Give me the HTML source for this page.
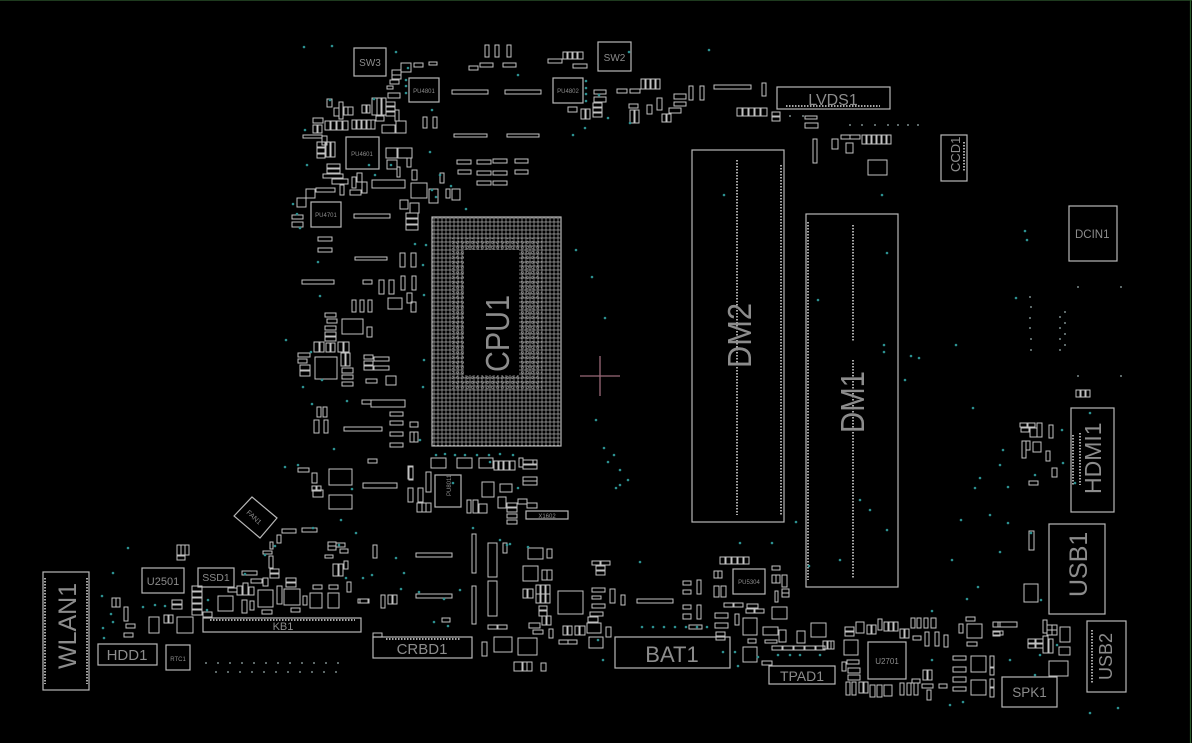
<!DOCTYPE html>
<html><head><meta charset="utf-8"><style>
html,body{margin:0;padding:0;background:#000;}
svg{display:block}
.o{fill:none;stroke:#b8b8b8;stroke-width:1.2}
.s rect{fill:none;stroke:#c2c2c2;stroke-width:1}
.t{fill:#8c8c8c;font-family:"Liberation Sans",sans-serif}
.d circle{fill:#2c9090}
.pin{stroke:#a8a8a8;stroke-width:2;stroke-dasharray:1.5 1.5;fill:none}
</style></head><body>
<svg width="1192" height="743" viewBox="0 0 1192 743" xmlns="http://www.w3.org/2000/svg">
<defs>
<pattern id="bga" width="4" height="4" patternUnits="userSpaceOnUse">
<path d="M2 0.6L3.4 2L2 3.4L0.6 2Z" fill="none" stroke="#a0a0a0" stroke-width="0.7"/>
</pattern>
<pattern id="bga2" width="5" height="5" patternUnits="userSpaceOnUse">
<path d="M2.5 1L4 2.5L2.5 4L1 2.5Z" fill="none" stroke="#8a8a8a" stroke-width="0.6"/>
</pattern>
</defs>
<rect width="1192" height="743" fill="#000"/>
<line x1="0" y1="0.5" x2="1192" y2="0.5" stroke="#1e3a1e" stroke-width="1"/>
<line x1="1190.5" y1="0" x2="1190.5" y2="743" stroke="#2a5a2a" stroke-width="1.2"/>

<!-- CPU1 -->
<rect x="432" y="217" width="129" height="229" fill="url(#bga)" stroke="#b8b8b8" stroke-width="1.2"/>
<rect x="452" y="238" width="90" height="152" fill="url(#bga2)" stroke="none"/>
<rect x="464" y="250" width="55" height="125" fill="#000"/>
<text class="t" transform="translate(509,372) rotate(-90)" font-size="33" textLength="77" lengthAdjust="spacingAndGlyphs">CPU1</text>
<line x1="580" y1="376" x2="620" y2="376" stroke="#9a6a78" stroke-width="1.3"/>
<line x1="600" y1="356" x2="600" y2="396" stroke="#9a6a78" stroke-width="1.3"/>

<!-- DM2 -->
<rect class="o" x="692" y="150" width="92" height="372"/>
<line class="pin" x1="737" y1="160" x2="737" y2="515"/>
<line class="pin" x1="781" y1="165" x2="781" y2="515"/>
<text class="t" transform="translate(751,368) rotate(-90)" font-size="33" textLength="65" lengthAdjust="spacingAndGlyphs">DM2</text>
<!-- DM1 -->
<rect class="o" x="806" y="214" width="92" height="373"/>
<line class="pin" x1="808" y1="222" x2="808" y2="580"/>
<line class="pin" x1="853" y1="225" x2="853" y2="342"/>
<line class="pin" x1="853" y1="360" x2="853" y2="578"/>
<text class="t" transform="translate(864,433) rotate(-90)" font-size="33" textLength="62" lengthAdjust="spacingAndGlyphs">DM1</text>

<!-- Connectors -->
<rect class="o" x="777" y="87" width="113" height="22"/>
<line class="pin" x1="786" y1="106" x2="880" y2="106" stroke-width="1.5"/>
<text class="t" x="833" y="105" font-size="16" text-anchor="middle">LVDS1</text>
<rect class="o" x="941" y="135" width="26" height="46"/>
<line class="pin" x1="964" y1="142" x2="964" y2="172" stroke-width="1.2"/>
<text class="t" transform="translate(960,172) rotate(-90)" font-size="13">CCD1</text>
<rect class="o" x="1069" y="206" width="48" height="55"/>
<text class="t" x="1075" y="238" font-size="11.5">DCIN1</text>
<rect class="o" x="1071" y="408" width="43" height="104"/>
<line class="pin" x1="1073" y1="435" x2="1073" y2="485" stroke-width="1.5"/>
<line class="pin" x1="1080" y1="433" x2="1080" y2="485" stroke-width="1.5"/>
<text class="t" transform="translate(1101,494) rotate(-90)" font-size="23">HDMI1</text>
<rect class="o" x="1049" y="524" width="56" height="90"/>
<text class="t" transform="translate(1087,597) rotate(-90)" font-size="25">USB1</text>
<rect class="o" x="1087" y="621" width="39" height="71"/>
<line class="pin" x1="1092" y1="630" x2="1092" y2="683" stroke-width="1.5"/>
<text class="t" transform="translate(1112,680) rotate(-90)" font-size="18">USB2</text>
<rect class="o" x="1002" y="677" width="55" height="30"/>
<text class="t" x="1029.5" y="697" font-size="13.5" text-anchor="middle">SPK1</text>
<rect class="o" x="615" y="637" width="115" height="31"/>
<text class="t" x="672" y="662" font-size="22" text-anchor="middle">BAT1</text>
<rect class="o" x="769" y="666" width="66" height="18"/>
<text class="t" x="802" y="681" font-size="14" text-anchor="middle">TPAD1</text>
<rect class="o" x="373" y="637" width="99" height="21"/>
<line class="pin" x1="386" y1="639" x2="460" y2="639" stroke-width="1.3"/>
<text class="t" x="422" y="654" font-size="15" text-anchor="middle">CRBD1</text>
<rect class="o" x="203" y="618" width="158" height="14"/>
<line class="pin" x1="210" y1="620" x2="355" y2="620" stroke-width="1.2"/>
<text class="t" x="283" y="630" font-size="11" text-anchor="middle">KB1</text>
<rect class="o" x="43" y="572" width="46" height="118"/>
<line class="pin" x1="45" y1="578" x2="45" y2="684" stroke-width="1.3"/>
<line class="pin" x1="87" y1="578" x2="87" y2="684" stroke-width="1.3"/>
<text class="t" transform="translate(76,669) rotate(-90)" font-size="25">WLAN1</text>
<rect class="o" x="98" y="644" width="59" height="21"/>
<text class="t" x="127" y="660" font-size="15" text-anchor="middle">HDD1</text>
<rect class="o" x="166" y="645" width="24" height="25"/>
<text class="t" x="178" y="661" font-size="6" text-anchor="middle">RTC1</text>
<rect class="o" x="142" y="568" width="42" height="25"/>
<text class="t" x="163" y="585" font-size="11" text-anchor="middle">U2501</text>
<rect class="o" x="198" y="568" width="36" height="19"/>
<text class="t" x="216" y="581" font-size="10.5" text-anchor="middle">SSD1</text>
<polygon class="o" points="234,516 252,497 277,518 260,538"/>
<text class="t" transform="translate(246,513) rotate(43)" font-size="7">FAN1</text>
<rect class="o" x="354" y="48" width="32" height="28"/>
<text class="t" x="370" y="66" font-size="10" text-anchor="middle">SW3</text>
<rect class="o" x="598" y="42" width="33" height="29"/>
<text class="t" x="614.5" y="61" font-size="10" text-anchor="middle">SW2</text>
<rect class="o" x="868" y="642" width="38" height="37"/>
<text class="t" x="887" y="664" font-size="8" text-anchor="middle">U2701</text>
<rect class="o" x="733" y="569" width="32" height="25"/>
<text class="t" x="749" y="584" font-size="6" text-anchor="middle">PU5304</text>
<rect class="o" x="409" y="78" width="30" height="24"/>
<text class="t" x="424" y="93" font-size="6" text-anchor="middle">PU4801</text>
<rect class="o" x="553" y="78" width="30" height="25"/>
<text class="t" x="568" y="93" font-size="6" text-anchor="middle">PU4802</text>
<rect class="o" x="346" y="137" width="33" height="32"/>
<text class="t" x="362" y="156" font-size="6" text-anchor="middle">PU4601</text>
<rect class="o" x="311" y="202" width="30" height="25"/>
<text class="t" x="326" y="217" font-size="6" text-anchor="middle">PU4701</text>
<rect class="o" x="435" y="475" width="26" height="32"/>
<text class="t" transform="translate(451,496) rotate(-90)" font-size="6">PU8011</text>
<rect class="o" x="526" y="511" width="42" height="8"/>
<text class="t" x="547" y="518" font-size="6" text-anchor="middle">X1602</text>

<!-- small parts -->
<g class="s">
<!-- top-left cluster -->
<rect x="485" y="45" width="4" height="12"/><rect x="495" y="45" width="4" height="12"/><rect x="507" y="45" width="4" height="12"/>
<rect x="469" y="66" width="9" height="4"/><rect x="480" y="63" width="13" height="4"/><rect x="503" y="63" width="13" height="4"/>
<rect x="452" y="90" width="36" height="4"/><rect x="505" y="90" width="36" height="4"/>
<rect x="454" y="134" width="33" height="3"/><rect x="507" y="134" width="32" height="3"/>
<rect x="423" y="117" width="4" height="11"/><rect x="433" y="117" width="4" height="11"/>
<rect x="457" y="160" width="14" height="4"/><rect x="477" y="160" width="14" height="4"/><rect x="493" y="159" width="14" height="4"/><rect x="515" y="159" width="13" height="4"/>
<rect x="458" y="170" width="13" height="4"/><rect x="477" y="171" width="14" height="4"/><rect x="493" y="171" width="14" height="4"/><rect x="515" y="170" width="13" height="4"/>
<rect x="477" y="181" width="14" height="4"/><rect x="493" y="181" width="14" height="4"/>
<rect x="354" y="214" width="36" height="4"/>
<rect x="414" y="63" width="9" height="4"/><rect x="429" y="62" width="8" height="3"/><rect x="401" y="63" width="10" height="9"/>
<rect x="392" y="70" width="9" height="5"/><rect x="392" y="75" width="9" height="4"/><rect x="390" y="80" width="9" height="4"/>
<rect x="387" y="86" width="6" height="3"/><rect x="388" y="93" width="12" height="5"/>
<rect x="327" y="99" width="5" height="8"/><rect x="339" y="102" width="4" height="17"/><rect x="344" y="107" width="4" height="8"/><rect x="348" y="107" width="5" height="8"/>
<rect x="334" y="108" width="5" height="8"/><rect x="362" y="105" width="5" height="8"/><rect x="366" y="105" width="4" height="8"/>
<rect x="372" y="98" width="5" height="17"/><rect x="377" y="98" width="4" height="17"/><rect x="382" y="98" width="4" height="17"/>
<rect x="386" y="102" width="9" height="4"/><rect x="386" y="107" width="9" height="4"/><rect x="386" y="112" width="9" height="4"/><rect x="395" y="110" width="4" height="11"/>
<rect x="376" y="116" width="8" height="5"/>
<rect x="325" y="121" width="5" height="9"/><rect x="331" y="121" width="5" height="9"/><rect x="337" y="121" width="5" height="9"/><rect x="343" y="121" width="5" height="9"/>
<rect x="352" y="120" width="4" height="9"/><rect x="357" y="120" width="4" height="9"/><rect x="362" y="120" width="4" height="9"/><rect x="367" y="120" width="4" height="9"/><rect x="371" y="120" width="4" height="9"/>
<rect x="382" y="125" width="13" height="8"/><rect x="396" y="121" width="10" height="12"/>
<rect x="313" y="118" width="10" height="5"/><rect x="313" y="125" width="4" height="8"/><rect x="318" y="125" width="4" height="8"/>
<rect x="303" y="135" width="19" height="3"/><rect x="322" y="136" width="5" height="9"/>
<rect x="317" y="142" width="8" height="5"/><rect x="317" y="148" width="8" height="5"/><rect x="326" y="142" width="4" height="15"/><rect x="331" y="142" width="4" height="15"/><rect x="317" y="154" width="8" height="4"/>
<rect x="327" y="164" width="13" height="4"/><rect x="327" y="169" width="13" height="4"/><rect x="323" y="174" width="20" height="4"/>
<rect x="332" y="179" width="16" height="5"/>
<rect x="352" y="177" width="4" height="11"/><rect x="357" y="173" width="5" height="9"/><rect x="362" y="182" width="5" height="11"/>
<rect x="340" y="185" width="4" height="10"/><rect x="350" y="190" width="11" height="5"/>
<rect x="386" y="148" width="11" height="10"/><rect x="387" y="160" width="10" height="9"/><rect x="397" y="167" width="3" height="10"/><rect x="398" y="148" width="14" height="10"/><rect x="407" y="158" width="4" height="9"/>
<rect x="412" y="170" width="5" height="10"/><rect x="440" y="173" width="4" height="10"/>
<rect x="372" y="180" width="33" height="8"/><rect x="411" y="183" width="16" height="15"/>
<rect x="429" y="189" width="9" height="14"/><rect x="446" y="189" width="4" height="9"/><rect x="452" y="189" width="8" height="11"/>
<rect x="316" y="188" width="19" height="4"/><rect x="306" y="189" width="9" height="9"/><rect x="297" y="198" width="9" height="9"/>
<rect x="292" y="215" width="11" height="4"/><rect x="292" y="222" width="11" height="5"/>
<rect x="400" y="200" width="8" height="9"/><rect x="410" y="203" width="9" height="10"/><rect x="406" y="213" width="12" height="5"/><rect x="406" y="219" width="12" height="5"/><rect x="406" y="225" width="12" height="5"/>
<!-- left middle -->
<rect x="318" y="237" width="14" height="4"/><rect x="318" y="248" width="14" height="4"/>
<rect x="355" y="257" width="32" height="3"/><rect x="400" y="253" width="5" height="14"/><rect x="411" y="253" width="5" height="14"/>
<rect x="302" y="280" width="32" height="4"/><rect x="363" y="280" width="9" height="4"/>
<rect x="379" y="280" width="5" height="14"/><rect x="389" y="280" width="5" height="14"/><rect x="401" y="276" width="4" height="14"/><rect x="412" y="276" width="4" height="14"/>
<rect x="388" y="298" width="14" height="11"/><rect x="407" y="293" width="5" height="10"/><rect x="411" y="302" width="5" height="10"/>
<rect x="352" y="300" width="4" height="12"/><rect x="360" y="300" width="4" height="12"/><rect x="368" y="300" width="4" height="12"/>
<rect x="325" y="313" width="11" height="4"/><rect x="327" y="319" width="10" height="4"/><rect x="325" y="326" width="11" height="4"/><rect x="325" y="332" width="11" height="4"/><rect x="325" y="337" width="11" height="4"/>
<rect x="342" y="319" width="21" height="15"/><rect x="367" y="327" width="5" height="10"/>
<rect x="314" y="342" width="5" height="10"/><rect x="320" y="342" width="4" height="10"/><rect x="326" y="343" width="4" height="9"/><rect x="331" y="343" width="4" height="9"/>
<rect x="338" y="342" width="5" height="10"/><rect x="344" y="342" width="5" height="10"/>
<rect x="298" y="353" width="12" height="4"/><rect x="298" y="359" width="9" height="4"/><rect x="300" y="365" width="10" height="5"/><rect x="300" y="371" width="10" height="5"/>
<rect x="315" y="357" width="22" height="22"/>
<rect x="341" y="353" width="4" height="13"/><rect x="346" y="353" width="4" height="13"/><rect x="342" y="368" width="11" height="5"/>
<rect x="342" y="375" width="11" height="4"/><rect x="342" y="382" width="11" height="4"/>
<rect x="364" y="355" width="9" height="4"/><rect x="364" y="361" width="9" height="4"/><rect x="364" y="366" width="9" height="4"/>
<rect x="374" y="357" width="15" height="4"/><rect x="374" y="366" width="15" height="4"/>
<rect x="366" y="379" width="11" height="4"/><rect x="386" y="376" width="10" height="9"/>
<rect x="362" y="400" width="9" height="4"/><rect x="371" y="400" width="34" height="7"/>
<rect x="390" y="412" width="13" height="4"/><rect x="390" y="421" width="13" height="4"/><rect x="390" y="432" width="13" height="4"/><rect x="390" y="443" width="13" height="4"/>
<rect x="410" y="422" width="8" height="5"/><rect x="410" y="432" width="4" height="10"/><rect x="414" y="432" width="4" height="10"/>
<rect x="317" y="407" width="4" height="10"/><rect x="323" y="407" width="4" height="10"/>
<rect x="314" y="420" width="5" height="13"/><rect x="324" y="420" width="4" height="13"/>
<rect x="344" y="427" width="38" height="4"/>
<rect x="368" y="459" width="9" height="4"/><rect x="298" y="468" width="11" height="4"/>
<rect x="329" y="469" width="23" height="16"/><rect x="312" y="473" width="5" height="10"/><rect x="312" y="486" width="4" height="5"/><rect x="317" y="486" width="4" height="5"/>
<rect x="409" y="467" width="4" height="13"/><rect x="363" y="483" width="34" height="5"/>
<rect x="329" y="495" width="23" height="14"/><rect x="313" y="490" width="10" height="7"/>
<!-- bottom middle -->
<rect x="390" y="443" width="13" height="4"/>
<rect x="408" y="466" width="5" height="13"/><rect x="408" y="488" width="5" height="14"/><rect x="418" y="488" width="5" height="14"/>
<rect x="417" y="503" width="5" height="9"/><rect x="422" y="503" width="4" height="9"/><rect x="426" y="503" width="5" height="9"/>
<rect x="426" y="472" width="5" height="20"/><rect x="431" y="458" width="15" height="10"/>
<rect x="457" y="458" width="15" height="10"/><rect x="479" y="458" width="14" height="10"/>
<rect x="494" y="461" width="4" height="9"/><rect x="499" y="461" width="4" height="9"/><rect x="504" y="461" width="5" height="9"/><rect x="510" y="461" width="5" height="9"/>
<rect x="519" y="458" width="4" height="9"/><rect x="523" y="460" width="10" height="4"/>
<rect x="467" y="500" width="4" height="13"/><rect x="473" y="500" width="5" height="13"/><rect x="479" y="504" width="8" height="9"/>
<rect x="482" y="482" width="12" height="15"/><rect x="500" y="484" width="12" height="8"/>
<rect x="498" y="497" width="8" height="11"/>
<rect x="507" y="503" width="10" height="4"/><rect x="507" y="508" width="10" height="4"/><rect x="507" y="514" width="10" height="4"/><rect x="507" y="520" width="10" height="4"/>
<rect x="523" y="460" width="14" height="4"/><rect x="523" y="465" width="14" height="4"/><rect x="523" y="477" width="14" height="4"/><rect x="523" y="481" width="14" height="4"/>
<rect x="518" y="499" width="9" height="5"/><rect x="527" y="503" width="10" height="5"/>
<rect x="472" y="534" width="4" height="39"/><rect x="472" y="586" width="4" height="38"/>
<rect x="488" y="543" width="9" height="34"/><rect x="488" y="581" width="9" height="35"/>
<rect x="503" y="543" width="4" height="10"/>
<rect x="416" y="553" width="36" height="4"/><rect x="416" y="594" width="36" height="4"/>
<rect x="373" y="545" width="4" height="13"/><rect x="381" y="595" width="4" height="13"/><rect x="388" y="595" width="4" height="9"/><rect x="393" y="595" width="4" height="9"/>
<rect x="360" y="599" width="8" height="4"/><rect x="442" y="618" width="8" height="4"/><rect x="373" y="633" width="9" height="4"/>
<rect x="482" y="642" width="5" height="14"/><rect x="488" y="625" width="9" height="4"/><rect x="498" y="625" width="9" height="4"/>
<rect x="494" y="637" width="18" height="15"/><rect x="518" y="638" width="19" height="17"/>
<rect x="514" y="662" width="8" height="9"/><rect x="523" y="662" width="4" height="9"/><rect x="527" y="662" width="5" height="9"/>
<rect x="541" y="663" width="5" height="8"/>
<rect x="528" y="548" width="15" height="11"/><rect x="547" y="549" width="5" height="9"/>
<rect x="523" y="566" width="15" height="15"/><rect x="542" y="570" width="5" height="10"/><rect x="547" y="570" width="5" height="10"/>
<rect x="523" y="589" width="4" height="9"/><rect x="528" y="589" width="5" height="9"/>
<rect x="536" y="585" width="4" height="9"/><rect x="541" y="585" width="4" height="9"/><rect x="546" y="585" width="4" height="9"/>
<rect x="536" y="594" width="4" height="9"/><rect x="541" y="594" width="4" height="9"/><rect x="546" y="594" width="4" height="9"/>
<rect x="539" y="606" width="8" height="4"/><rect x="539" y="611" width="8" height="5"/>
<rect x="542" y="616" width="4" height="9"/><rect x="547" y="616" width="4" height="9"/>
<rect x="529" y="623" width="11" height="5"/><rect x="533" y="630" width="10" height="4"/><rect x="549" y="629" width="4" height="9"/>
<rect x="558" y="591" width="25" height="23"/>
<rect x="592" y="561" width="8" height="4"/><rect x="601" y="561" width="9" height="4"/><rect x="596" y="566" width="9" height="4"/><rect x="596" y="571" width="9" height="4"/>
<rect x="592" y="588" width="13" height="4"/><rect x="592" y="596" width="9" height="3"/><rect x="592" y="604" width="13" height="4"/><rect x="590" y="612" width="13" height="4"/><rect x="588" y="617" width="10" height="5"/>
<rect x="610" y="589" width="5" height="14"/><rect x="621" y="595" width="4" height="10"/>
<rect x="637" y="599" width="36" height="4"/>
<rect x="563" y="626" width="4" height="9"/><rect x="568" y="626" width="4" height="9"/><rect x="575" y="626" width="4" height="9"/><rect x="580" y="626" width="5" height="9"/>
<rect x="559" y="640" width="9" height="4"/><rect x="568" y="640" width="9" height="4"/>
<rect x="587" y="623" width="14" height="10"/><rect x="606" y="627" width="5" height="10"/><rect x="589" y="637" width="14" height="11"/>
<!-- bottom right middle -->
<rect x="720" y="557" width="5" height="7"/><rect x="726" y="557" width="5" height="7"/><rect x="732" y="557" width="5" height="7"/><rect x="738" y="557" width="5" height="7"/><rect x="744" y="557" width="5" height="7"/>
<rect x="714" y="571" width="4" height="7"/><rect x="718" y="571" width="4" height="7"/>
<rect x="714" y="586" width="5" height="11"/><rect x="721" y="586" width="5" height="11"/>
<rect x="772" y="566" width="8" height="4"/><rect x="772" y="575" width="4" height="8"/><rect x="776" y="575" width="4" height="8"/><rect x="782" y="575" width="5" height="12"/>
<rect x="775" y="591" width="3" height="11"/><rect x="782" y="589" width="7" height="4"/><rect x="782" y="593" width="7" height="4"/>
<rect x="683" y="581" width="8" height="4"/><rect x="683" y="590" width="8" height="4"/><rect x="697" y="580" width="4" height="14"/>
<rect x="683" y="605" width="8" height="4"/><rect x="683" y="614" width="8" height="5"/><rect x="697" y="605" width="4" height="14"/>
<rect x="715" y="613" width="13" height="5"/><rect x="715" y="623" width="13" height="5"/>
<rect x="724" y="603" width="9" height="4"/><rect x="734" y="603" width="9" height="4"/><rect x="735" y="614" width="4" height="11"/>
<rect x="747" y="604" width="11" height="4"/><rect x="746" y="609" width="8" height="4"/><rect x="755" y="609" width="9" height="4"/>
<rect x="772" y="607" width="15" height="12"/><rect x="743" y="618" width="14" height="17"/>
<rect x="689" y="625" width="13" height="4"/><rect x="716" y="632" width="9" height="4"/><rect x="716" y="636" width="9" height="4"/>
<rect x="743" y="647" width="14" height="15"/><rect x="748" y="639" width="8" height="4"/>
<rect x="763" y="627" width="15" height="8"/><rect x="765" y="640" width="12" height="3"/>
<rect x="779" y="630" width="7" height="12"/><rect x="797" y="631" width="8" height="12"/><rect x="811" y="623" width="15" height="14"/>
<rect x="772" y="646" width="10" height="4"/><rect x="783" y="646" width="10" height="4"/><rect x="794" y="646" width="10" height="4"/><rect x="805" y="646" width="10" height="4"/><rect x="816" y="646" width="9" height="4"/>
<rect x="823" y="641" width="4" height="8"/><rect x="828" y="641" width="3" height="8"/><rect x="831" y="641" width="3" height="8"/>
<rect x="762" y="661" width="10" height="4"/>
<rect x="844" y="640" width="14" height="15"/><rect x="842" y="662" width="4" height="9"/>
<rect x="845" y="627" width="9" height="4"/><rect x="845" y="632" width="9" height="4"/>
<rect x="856" y="622" width="8" height="11"/><rect x="867" y="625" width="4" height="9"/><rect x="872" y="625" width="4" height="9"/>
<rect x="878" y="619" width="4" height="11"/><rect x="884" y="622" width="4" height="9"/><rect x="889" y="622" width="4" height="9"/><rect x="894" y="622" width="4" height="9"/>
<rect x="900" y="629" width="4" height="9"/><rect x="905" y="629" width="4" height="9"/>
<rect x="911" y="618" width="4" height="10"/><rect x="917" y="618" width="4" height="10"/><rect x="924" y="618" width="4" height="10"/><rect x="931" y="618" width="5" height="10"/>
<rect x="913" y="636" width="8" height="4"/><rect x="925" y="632" width="4" height="14"/><rect x="935" y="632" width="4" height="14"/><rect x="944" y="635" width="4" height="12"/>
<rect x="847" y="660" width="12" height="4"/><rect x="848" y="668" width="12" height="5"/><rect x="848" y="675" width="12" height="5"/>
<rect x="846" y="682" width="4" height="13"/><rect x="852" y="682" width="4" height="13"/><rect x="859" y="682" width="4" height="11"/><rect x="864" y="682" width="4" height="11"/>
<rect x="870" y="685" width="5" height="12"/><rect x="877" y="685" width="5" height="12"/><rect x="884" y="685" width="8" height="11"/>
<rect x="900" y="683" width="4" height="12"/><rect x="907" y="683" width="4" height="12"/><rect x="914" y="683" width="4" height="12"/>
<rect x="912" y="679" width="8" height="4"/><rect x="923" y="670" width="4" height="10"/><rect x="928" y="670" width="4" height="10"/>
<rect x="922" y="684" width="11" height="4"/><rect x="927" y="690" width="4" height="10"/><rect x="939" y="684" width="8" height="4"/>
<rect x="966" y="617" width="9" height="4"/><rect x="959" y="624" width="4" height="9"/><rect x="967" y="624" width="15" height="14"/><rect x="967" y="642" width="10" height="4"/>
<rect x="993" y="622" width="7" height="5"/><rect x="993" y="632" width="7" height="4"/>
<rect x="953" y="656" width="13" height="4"/><rect x="953" y="667" width="13" height="5"/><rect x="953" y="677" width="13" height="5"/><rect x="953" y="687" width="13" height="4"/>
<rect x="971" y="656" width="15" height="16"/><rect x="971" y="680" width="15" height="15"/>
<rect x="990" y="656" width="4" height="11"/><rect x="990" y="668" width="4" height="7"/><rect x="990" y="679" width="4" height="8"/><rect x="990" y="688" width="4" height="9"/>
<!-- right cluster -->
<rect x="1020" y="423" width="7" height="4"/><rect x="1028" y="423" width="7" height="4"/><rect x="1021" y="428" width="8" height="4"/><rect x="1030" y="428" width="7" height="9"/><rect x="1037" y="423" width="5" height="14"/>
<rect x="1049" y="425" width="4" height="13"/>
<rect x="1022" y="441" width="4" height="17"/><rect x="1026" y="441" width="4" height="9"/><rect x="1033" y="442" width="8" height="10"/>
<rect x="1046" y="451" width="4" height="10"/><rect x="1052" y="468" width="5" height="9"/><rect x="1029" y="481" width="9" height="4"/>
<rect x="1029" y="531" width="5" height="19"/><rect x="1024" y="584" width="14" height="18"/>
<rect x="998" y="622" width="19" height="5"/><rect x="993" y="631" width="10" height="4"/>
<rect x="1043" y="620" width="4" height="13"/><rect x="1047" y="625" width="5" height="5"/><rect x="1052" y="625" width="5" height="5"/><rect x="1047" y="630" width="5" height="5"/><rect x="1052" y="630" width="5" height="5"/>
<rect x="1043" y="636" width="5" height="17"/><rect x="1049" y="639" width="4" height="14"/>
<rect x="1028" y="639" width="7" height="4"/><rect x="1036" y="639" width="7" height="4"/><rect x="1028" y="644" width="7" height="4"/><rect x="1036" y="644" width="7" height="4"/>
<rect x="1060" y="627" width="10" height="15"/><rect x="1059" y="647" width="11" height="8"/><rect x="1049" y="661" width="19" height="15"/>
<rect x="1076" y="390" width="4" height="7"/><rect x="1081" y="390" width="4" height="7"/><rect x="1086" y="390" width="4" height="7"/>
<!-- top right -->
<rect x="563" y="52" width="4" height="7"/><rect x="568" y="52" width="4" height="7"/><rect x="573" y="52" width="4" height="7"/><rect x="578" y="52" width="5" height="7"/>
<rect x="548" y="59" width="14" height="4"/><rect x="573" y="64" width="14" height="4"/>
<rect x="594" y="90" width="12" height="4"/><rect x="594" y="97" width="12" height="5"/>
<rect x="593" y="103" width="9" height="4"/><rect x="593" y="108" width="9" height="4"/><rect x="593" y="113" width="9" height="4"/>
<rect x="568" y="107" width="9" height="5"/><rect x="581" y="109" width="4" height="10"/><rect x="586" y="109" width="4" height="10"/>
<rect x="617" y="89" width="10" height="4"/><rect x="630" y="89" width="10" height="4"/>
<rect x="641" y="79" width="4" height="10"/><rect x="646" y="79" width="4" height="10"/><rect x="651" y="79" width="4" height="10"/><rect x="656" y="79" width="4" height="10"/>
<rect x="629" y="104" width="9" height="4"/><rect x="630" y="110" width="4" height="13"/><rect x="635" y="110" width="4" height="13"/>
<rect x="647" y="105" width="5" height="9"/><rect x="657" y="98" width="5" height="12"/><rect x="662" y="114" width="4" height="8"/><rect x="667" y="114" width="4" height="8"/>
<rect x="674" y="94" width="12" height="5"/><rect x="674" y="102" width="12" height="4"/><rect x="669" y="108" width="12" height="5"/>
<rect x="689" y="86" width="4" height="14"/><rect x="700" y="86" width="4" height="14"/>
<rect x="714" y="85" width="37" height="4"/><rect x="762" y="83" width="4" height="13"/>
<rect x="737" y="108" width="5" height="8"/><rect x="743" y="108" width="5" height="8"/><rect x="749" y="108" width="5" height="8"/><rect x="755" y="108" width="5" height="8"/><rect x="761" y="108" width="6" height="8"/>
<rect x="772" y="112" width="8" height="4"/><rect x="772" y="117" width="8" height="4"/>
<rect x="805" y="116" width="12" height="3"/><rect x="805" y="123" width="13" height="5"/><rect x="813" y="139" width="4" height="24"/>
<rect x="832" y="139" width="6" height="10"/><rect x="846" y="143" width="7" height="10"/>
<rect x="841" y="135" width="9" height="4"/><rect x="850" y="135" width="10" height="4"/>
<rect x="862" y="135" width="4" height="9"/><rect x="867" y="135" width="4" height="9"/><rect x="872" y="135" width="4" height="9"/><rect x="877" y="135" width="4" height="9"/><rect x="882" y="135" width="4" height="9"/><rect x="887" y="135" width="4" height="9"/>
<rect x="868" y="160" width="19" height="15"/>
<!-- bottom left -->
<rect x="177" y="545" width="4" height="10"/><rect x="181" y="545" width="4" height="10"/><rect x="185" y="545" width="4" height="10"/><rect x="177" y="556" width="8" height="4"/>
<rect x="112" y="598" width="4" height="9"/><rect x="116" y="598" width="4" height="9"/>
<rect x="124" y="607" width="4" height="14"/><rect x="126" y="624" width="9" height="4"/><rect x="124" y="633" width="9" height="4"/>
<rect x="149" y="617" width="10" height="16"/><rect x="164" y="615" width="4" height="8"/><rect x="169" y="615" width="4" height="8"/>
<rect x="172" y="600" width="10" height="4"/><rect x="172" y="605" width="10" height="4"/><rect x="177" y="617" width="16" height="16"/>
<rect x="192" y="586" width="10" height="5"/><rect x="192" y="592" width="10" height="5"/><rect x="192" y="598" width="10" height="5"/><rect x="192" y="604" width="10" height="5"/><rect x="192" y="610" width="10" height="5"/>
<rect x="203" y="612" width="9" height="5"/><rect x="218" y="596" width="15" height="15"/>
<rect x="228" y="588" width="9" height="4"/><rect x="237" y="586" width="5" height="9"/><rect x="243" y="583" width="5" height="12"/><rect x="249" y="587" width="5" height="8"/>
<rect x="242" y="600" width="5" height="13"/><rect x="250" y="601" width="4" height="9"/>
<rect x="242" y="571" width="15" height="4"/><rect x="251" y="579" width="11" height="4"/><rect x="263" y="578" width="5" height="8"/>
<rect x="258" y="590" width="15" height="17"/><rect x="262" y="610" width="10" height="4"/>
<rect x="270" y="569" width="9" height="4"/><rect x="270" y="574" width="9" height="4"/><rect x="277" y="586" width="5" height="18"/>
<rect x="284" y="589" width="16" height="16"/><rect x="286" y="578" width="10" height="4"/><rect x="286" y="583" width="10" height="4"/><rect x="291" y="608" width="9" height="4"/>
<rect x="303" y="596" width="4" height="9"/><rect x="310" y="593" width="12" height="15"/><rect x="328" y="593" width="11" height="15"/>
<rect x="313" y="585" width="9" height="4"/><rect x="329" y="585" width="9" height="4"/><rect x="347" y="582" width="4" height="10"/><rect x="358" y="599" width="11" height="4"/>
<rect x="282" y="529" width="14" height="4"/><rect x="302" y="528" width="15" height="4"/>
<rect x="277" y="535" width="4" height="8"/><rect x="270" y="542" width="3" height="7"/><rect x="263" y="551" width="9" height="3"/><rect x="269" y="556" width="4" height="12"/>
<rect x="328" y="542" width="8" height="4"/><rect x="328" y="546" width="8" height="4"/><rect x="336" y="543" width="9" height="4"/><rect x="340" y="549" width="8" height="4"/><rect x="325" y="555" width="8" height="3"/>
<rect x="333" y="564" width="5" height="12"/><rect x="339" y="564" width="4" height="12"/><rect x="344" y="561" width="4" height="8"/>
</g>

<!-- dotted rows / diamonds -->
<g fill="#7a8a8a">
<circle cx="206" cy="663" r="1"/><circle cx="218" cy="663" r="1"/><circle cx="230" cy="663" r="1"/><circle cx="242" cy="663" r="1"/><circle cx="254" cy="663" r="1"/><circle cx="266" cy="663" r="1"/><circle cx="278" cy="663" r="1"/><circle cx="290" cy="663" r="1"/><circle cx="302" cy="663" r="1"/><circle cx="314" cy="663" r="1"/><circle cx="326" cy="663" r="1"/><circle cx="338" cy="663" r="1"/>
<circle cx="216" cy="672" r="1"/><circle cx="228" cy="672" r="1"/><circle cx="240" cy="672" r="1"/><circle cx="252" cy="672" r="1"/><circle cx="264" cy="672" r="1"/><circle cx="276" cy="672" r="1"/><circle cx="288" cy="672" r="1"/><circle cx="300" cy="672" r="1"/><circle cx="312" cy="672" r="1"/><circle cx="324" cy="672" r="1"/><circle cx="336" cy="672" r="1"/>
<circle cx="1030" cy="297" r="1"/><circle cx="1031" cy="307" r="1"/><circle cx="1030" cy="318" r="1"/><circle cx="1030" cy="328" r="1"/><circle cx="1031" cy="339" r="1"/><circle cx="1031" cy="350" r="1"/>
<circle cx="1060" cy="317" r="1"/><circle cx="1065" cy="312" r="1"/><circle cx="1060" cy="328" r="1"/><circle cx="1065" cy="323" r="1"/><circle cx="1060" cy="339" r="1"/><circle cx="1065" cy="334" r="1"/><circle cx="1060" cy="350" r="1"/><circle cx="1065" cy="345" r="1"/>
<circle cx="1078" cy="287" r="1"/><circle cx="1121" cy="287" r="1"/><circle cx="1078" cy="376" r="1"/><circle cx="1121" cy="376" r="1"/>
<circle cx="790" cy="116" r="1"/><circle cx="803" cy="116" r="1"/><circle cx="850" cy="125" r="1"/><circle cx="862" cy="125" r="1"/><circle cx="875" cy="125" r="1"/><circle cx="888" cy="125" r="1"/><circle cx="898" cy="125" r="1"/><circle cx="908" cy="125" r="1"/><circle cx="918" cy="125" r="1"/>
</g>

<!-- teal vias -->
<g class="d">
<circle cx="304" cy="47" r="1.3"/><circle cx="332" cy="46" r="1.3"/><circle cx="396" cy="52" r="1.3"/><circle cx="408" cy="68" r="1.3"/><circle cx="432" cy="110" r="1.3"/><circle cx="518" cy="75" r="1.3"/><circle cx="629" cy="52" r="1.3"/><circle cx="709" cy="50" r="1.3"/><circle cx="630" cy="123" r="1.3"/><circle cx="599" cy="95" r="1.3"/><circle cx="608" cy="118" r="1.3"/><circle cx="585" cy="128" r="1.3"/><circle cx="573" cy="135" r="1.3"/><circle cx="430" cy="152" r="1.3"/><circle cx="374" cy="99" r="1.3"/><circle cx="330" cy="100" r="1.3"/><circle cx="305" cy="130" r="1.3"/><circle cx="307" cy="165" r="1.3"/><circle cx="369" cy="165" r="1.3"/><circle cx="391" cy="165" r="1.3"/><circle cx="375" cy="175" r="1.3"/><circle cx="436" cy="197" r="1.3"/><circle cx="440" cy="175" r="1.3"/><circle cx="451" cy="186" r="1.3"/><circle cx="466" cy="209" r="1.3"/><circle cx="432" cy="190" r="1.3"/>
<circle cx="406" cy="80" r="1.3"/><circle cx="406" cy="86" r="1.3"/><circle cx="406" cy="93" r="1.3"/><circle cx="586" cy="81" r="1.3"/><circle cx="586" cy="88" r="1.3"/><circle cx="586" cy="94" r="1.3"/><circle cx="586" cy="101" r="1.3"/>
<circle cx="426" cy="245" r="1.3"/><circle cx="423" cy="265" r="1.3"/><circle cx="424" cy="295" r="1.3"/><circle cx="424" cy="360" r="1.3"/><circle cx="423" cy="387" r="1.3"/><circle cx="420" cy="440" r="1.3"/><circle cx="605" cy="318" r="1.3"/><circle cx="592" cy="277" r="1.3"/><circle cx="576" cy="250" r="1.3"/><circle cx="596" cy="420" r="1.3"/><circle cx="614" cy="455" r="1.3"/><circle cx="620" cy="470" r="1.3"/><circle cx="628" cy="480" r="1.3"/><circle cx="604" cy="448" r="1.3"/><circle cx="608" cy="462" r="1.3"/><circle cx="616" cy="488" r="1.3"/>
<circle cx="724" cy="195" r="1.3"/><circle cx="882" cy="195" r="1.3"/><circle cx="887" cy="253" r="1.3"/><circle cx="818" cy="300" r="1.3"/><circle cx="884" cy="345" r="1.3"/><circle cx="884" cy="352" r="1.3"/><circle cx="911" cy="356" r="1.3"/><circle cx="919" cy="358" r="1.3"/><circle cx="905" cy="380" r="1.3"/><circle cx="956" cy="345" r="1.3"/><circle cx="1016" cy="298" r="1.3"/><circle cx="1027" cy="240" r="1.3"/><circle cx="1025" cy="231" r="1.3"/><circle cx="973" cy="408" r="1.3"/><circle cx="1035" cy="475" r="1.3"/><circle cx="975" cy="488" r="1.3"/><circle cx="961" cy="520" r="1.3"/><circle cx="1000" cy="552" r="1.3"/><circle cx="952" cy="560" r="1.3"/><circle cx="967" cy="599" r="1.3"/><circle cx="978" cy="587" r="1.3"/><circle cx="1008" cy="487" r="1.3"/><circle cx="1003" cy="450" r="1.3"/><circle cx="1031" cy="533" r="1.3"/><circle cx="1008" cy="523" r="1.3"/><circle cx="1062" cy="430" r="1.3"/><circle cx="1090" cy="413" r="1.3"/><circle cx="1063" cy="463" r="1.3"/><circle cx="1075" cy="483" r="1.3"/><circle cx="990" cy="515" r="1.3"/><circle cx="980" cy="478" r="1.3"/><circle cx="1000" cy="465" r="1.3"/>
<circle cx="640" cy="562" r="1.3"/><circle cx="740" cy="543" r="1.3"/><circle cx="772" cy="543" r="1.3"/><circle cx="620" cy="485" r="1.3"/><circle cx="598" cy="640" r="1.3"/><circle cx="603" cy="660" r="1.3"/><circle cx="796" cy="522" r="1.3"/><circle cx="809" cy="566" r="1.3"/><circle cx="840" cy="560" r="1.3"/><circle cx="887" cy="530" r="1.3"/><circle cx="860" cy="500" r="1.3"/><circle cx="870" cy="510" r="1.3"/><circle cx="932" cy="611" r="1.3"/><circle cx="932" cy="660" r="1.3"/><circle cx="950" cy="705" r="1.3"/><circle cx="963" cy="702" r="1.3"/><circle cx="1040" cy="655" r="1.3"/><circle cx="1057" cy="645" r="1.3"/><circle cx="1090" cy="713" r="1.3"/><circle cx="1118" cy="708" r="1.3"/><circle cx="1010" cy="660" r="1.3"/><circle cx="1035" cy="675" r="1.3"/><circle cx="1041" cy="600" r="1.3"/>
<circle cx="723" cy="652" r="1.3"/><circle cx="735" cy="652" r="1.3"/><circle cx="758" cy="657" r="1.3"/><circle cx="778" cy="655" r="1.3"/><circle cx="790" cy="655" r="1.3"/><circle cx="800" cy="655" r="1.3"/><circle cx="820" cy="655" r="1.3"/><circle cx="738" cy="666" r="1.3"/>
<circle cx="642" cy="627" r="1.3"/><circle cx="653" cy="627" r="1.3"/><circle cx="664" cy="627" r="1.3"/><circle cx="675" cy="627" r="1.3"/><circle cx="686" cy="627" r="1.3"/><circle cx="697" cy="627" r="1.3"/><circle cx="707" cy="627" r="1.3"/>
<circle cx="128" cy="548" r="1.3"/><circle cx="113" cy="573" r="1.3"/><circle cx="245" cy="574" r="1.3"/><circle cx="265" cy="555" r="1.3"/><circle cx="275" cy="546" r="1.3"/><circle cx="313" cy="528" r="1.3"/><circle cx="346" cy="578" r="1.3"/><circle cx="363" cy="578" r="1.3"/><circle cx="339" cy="545" r="1.3"/><circle cx="372" cy="575" r="1.3"/><circle cx="341" cy="520" r="1.3"/><circle cx="285" cy="467" r="1.3"/><circle cx="334" cy="449" r="1.3"/><circle cx="352" cy="489" r="1.3"/><circle cx="356" cy="533" r="1.3"/><circle cx="396" cy="558" r="1.3"/><circle cx="401" cy="589" r="1.3"/><circle cx="404" cy="573" r="1.3"/><circle cx="419" cy="592" r="1.3"/><circle cx="444" cy="599" r="1.3"/><circle cx="460" cy="590" r="1.3"/><circle cx="434" cy="622" r="1.3"/><circle cx="448" cy="626" r="1.3"/><circle cx="500" cy="540" r="1.3"/><circle cx="510" cy="544" r="1.3"/><circle cx="528" cy="547" r="1.3"/><circle cx="507" cy="545" r="1.3"/>
<circle cx="102" cy="596" r="1.3"/><circle cx="111" cy="614" r="1.3"/><circle cx="103" cy="628" r="1.3"/><circle cx="113" cy="622" r="1.3"/><circle cx="104" cy="638" r="1.3"/><circle cx="143" cy="607" r="1.3"/><circle cx="155" cy="605" r="1.3"/><circle cx="165" cy="606" r="1.3"/><circle cx="208" cy="600" r="1.3"/><circle cx="207" cy="610" r="1.3"/>
<circle cx="293" cy="204" r="1.3"/><circle cx="297" cy="214" r="1.3"/><circle cx="300" cy="228" r="1.3"/><circle cx="286" cy="340" r="1.3"/><circle cx="303" cy="387" r="1.3"/><circle cx="312" cy="404" r="1.3"/><circle cx="298" cy="465" r="1.3"/><circle cx="347" cy="401" r="1.3"/><circle cx="318" cy="262" r="1.3"/><circle cx="320" cy="296" r="1.3"/><circle cx="415" cy="244" r="1.3"/><circle cx="322" cy="380" r="1.3"/><circle cx="311" cy="352" r="1.3"/>
<circle cx="436" cy="455" r="1.3"/><circle cx="445" cy="454" r="1.3"/><circle cx="455" cy="455" r="1.3"/><circle cx="465" cy="455" r="1.3"/><circle cx="477" cy="455" r="1.3"/><circle cx="489" cy="455" r="1.3"/><circle cx="500" cy="454" r="1.3"/><circle cx="513" cy="455" r="1.3"/>
<circle cx="490" cy="462" r="1.3"/><circle cx="453" cy="483" r="1.3"/><circle cx="518" cy="488" r="1.3"/><circle cx="473" cy="528" r="1.3"/>
</g>
</svg>
</body></html>
